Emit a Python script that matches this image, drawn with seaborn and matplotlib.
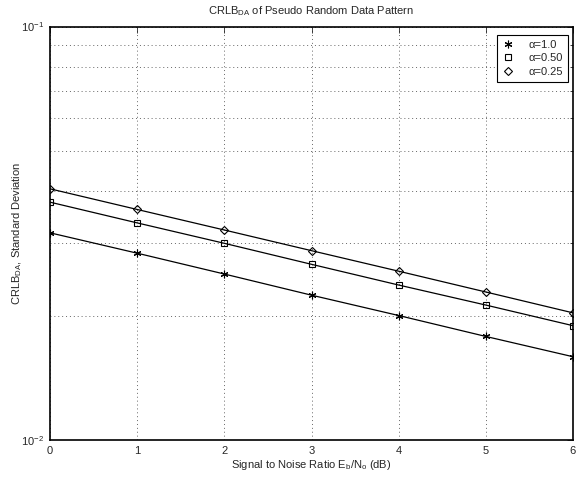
import matplotlib
matplotlib.use("Agg")
import matplotlib.pyplot as plt
from matplotlib.lines import Line2D
from matplotlib.ticker import NullFormatter
import seaborn as sns

# values (log scale)
snr_db = [0, 1, 2, 3, 4, 5, 6]
std_a100 = [0.0317, 0.0283, 0.0252, 0.0224, 0.0200, 0.0178, 0.0159]
std_a050 = [0.0376, 0.0335, 0.0299, 0.0266, 0.0237, 0.0212, 0.0189]
std_a025 = [0.0405, 0.0361, 0.0322, 0.0287, 0.0256, 0.0228, 0.0203]
labels = ["α=1.0", "α=0.50", "α=0.25"]
markers = [(6, 2, 0), "s", "D"]
msizes = [5.5, 4.2, 4.2]

sns.set_style("white")
plt.rcParams["font.family"] = ["Liberation Sans", "DejaVu Sans"]
plt.rcParams["mathtext.fontset"] = "custom"
plt.rcParams["mathtext.rm"] = "Liberation Sans"
plt.rcParams["mathtext.it"] = "Liberation Sans"
fs = 8

fig = plt.figure(figsize=(5.76, 4.78), dpi=100)
ax = fig.add_axes([50/576, 38/478, 523/576, 413.5/478])

for s, m, ms in zip([std_a100, std_a050, std_a025], markers, msizes):
    sns.lineplot(x=snr_db, y=s, ax=ax, color="black", lw=0.9,
                 marker=m, markersize=ms, markerfacecolor="none",
                 markeredgecolor="black", markeredgewidth=0.8)

ax.set_yscale("log")
ax.set_xlim(0, 6)
ax.set_ylim(1e-2, 1e-1)
ax.set_xticks(snr_db)
ax.yaxis.set_minor_formatter(NullFormatter())
grid_kw = dict(color="0.4", linestyle=(0, (1, 3)), lw=0.7)
ax.grid(True, which="major", axis="x", **grid_kw)
ax.grid(True, which="both", axis="y", **grid_kw)
ax.tick_params(direction="in", top=True, right=True, which="both",
               length=4, width=0.6, labelsize=fs, pad=4)
ax.tick_params(which="minor", length=2)
for sp in ax.spines.values():
    sp.set_color("black")
    sp.set_linewidth(1.2)

ax.set_title("CRLB$_{DA}$ of Pseudo Random Data Pattern", fontsize=fs, pad=9)
ax.set_xlabel("Signal to Noise Ratio E$_b$/N$_o$ (dB)", fontsize=fs, labelpad=2)
ax.set_ylabel("CRLB$_{DA}$, Standard Deviation", fontsize=fs)
ax.yaxis.set_label_coords(-0.05, 0.5)

handles = [Line2D([], [], color="black", marker=m, linestyle="none",
                  markersize=ms, markerfacecolor="none",
                  markeredgewidth=0.8) for m, ms in zip(markers, msizes)]
leg = ax.legend(handles, labels, loc="upper right",
                bbox_to_anchor=(0.9904, 0.9794), borderaxespad=0,
                fancybox=False, edgecolor="black", framealpha=1,
                handlelength=1.2, handletextpad=1.2, fontsize=fs,
                labelspacing=0.3, borderpad=0.45)
leg.get_frame().set_linewidth(0.8)

fig.savefig("out.png", dpi=100)
